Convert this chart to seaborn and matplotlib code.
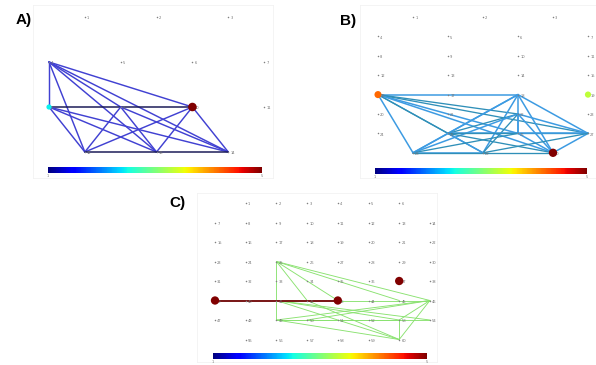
import numpy as np
import pandas as pd
import matplotlib
matplotlib.use("Agg")
import matplotlib.pyplot as plt
import seaborn as sns
from matplotlib.colors import Normalize
from matplotlib.cm import ScalarMappable

sns.set_style("white")
plt.rcParams['font.family'] = ['DejaVu Sans']
JET = plt.get_cmap("jet")

# ---------------- data ----------------
# grid layouts: nodes per row and column offset of each row
rows_A = [3, 4, 4, 3]
offs_A = [0.5, 0, 0, 0.5]
rows_B = [3, 4, 4, 4, 4, 4, 4, 3]
offs_B = [0.5, 0, 0, 0, 0, 0, 0, 0.5]
rows_C = [6, 8, 8, 8, 8, 8, 8, 6]
offs_C = [1, 0, 0, 0, 0, 0, 0, 1]

# coloured (active) nodes and their values on the 0..1 colour scale
active_A = [8, 10]
value_A = [0.36, 1.0]
active_B = [16, 19, 30]
value_B = [0.80, 0.58, 1.0]
active_C = [39, 43, 37]
value_C = [1.0, 1.0, 1.0]

# edges (node pairs) and their weights
edges_A = [(4, 8), (4, 12), (4, 13), (4, 14), (4, 10), (4, 9),
           (8, 10), (8, 12), (8, 13), (8, 14),
           (9, 12), (9, 13), (9, 14),
           (10, 12), (10, 13), (10, 14), (12, 14)]
weight_A = [1, 1, 1, 1, 1, 1,
            2, 1, 1, 1,
            1, 1, 1,
            1, 1, 1, 2]

edges_B = [(16, 18), (16, 22), (16, 25), (16, 26), (16, 27), (16, 28), (16, 29), (16, 30),
           (18, 25), (18, 26), (18, 28), (18, 29), (18, 30), (18, 27),
           (22, 25), (22, 27), (22, 28), (22, 29), (22, 30), (22, 26),
           (25, 26), (25, 27), (25, 29), (25, 30), (25, 28),
           (26, 27), (26, 28), (26, 30), (27, 30), (27, 29), (28, 29), (28, 30)]
weight_B = [1, 2, 2, 1, 2, 1, 2, 1,
            1, 1, 1, 1, 1, 1,
            2, 1, 1, 2, 1, 1,
            1, 2, 1, 2, 1,
            1, 2, 1, 1, 2, 1, 2]

edges_C = [(25, 46), (25, 43), (25, 42), (25, 41), (25, 45), (41, 49), (43, 46),
           (41, 53), (41, 60), (41, 54), (49, 46), (49, 53), (49, 60), (50, 46),
           (53, 60), (46, 60), (46, 53), (42, 60), (49, 54), (39, 43)]
weight_C = [1, 1, 1, 1, 1, 1, 1,
            1, 1, 1, 1, 1, 1, 1,
            1, 1, 1, 1, 1, 3]

# ---------------- helpers ----------------
W, H = 596, 365
fig = plt.figure(figsize=(5.96, 3.65), dpi=100)


def rect(x0, y0, x1, y1):
    return [x0 / W, 1 - y1 / H, (x1 - x0) / W, (y1 - y0) / H]


def grid(rows, offs):
    recs = []
    n = 1
    for r, (cnt, off) in enumerate(zip(rows, offs)):
        for c in range(cnt):
            recs.append((n, c + off, r))
            n += 1
    return pd.DataFrame(recs, columns=["node", "x", "y"]).set_index("node")


def panel(label, frame, x0px, dxpx, y0px, dypx, cbar, lab_pos,
          rows, offs, active, values, sizes, edges, weights, ecols, ewidths):
    ax = fig.add_axes(rect(*frame))
    fx0, fy0, fx1, fy1 = frame
    ax.set_xlim((fx0 - x0px) / dxpx, (fx1 - x0px) / dxpx)
    ax.set_ylim((fy1 - y0px) / dypx, (fy0 - y0px) / dypx)
    ax.set_xticks([]); ax.set_yticks([])
    for s in ax.spines.values():
        s.set_color("#f2f2f2"); s.set_linewidth(0.6)
    g = grid(rows, offs)
    # edges
    for (a, b), w in zip(edges, weights):
        ax.plot([g.loc[a, "x"], g.loc[b, "x"]], [g.loc[a, "y"], g.loc[b, "y"]],
                color=ecols[w], lw=ewidths[w], solid_capstyle="round", zorder=2)
    # all nodes small
    sns.scatterplot(data=g, x="x", y="y", ax=ax, s=1.2, color="#808080",
                    linewidth=0, legend=False, zorder=3)
    for n, row in g.iterrows():
        ax.annotate(str(n), (row.x, row.y), xytext=(1.6, -0.8), textcoords="offset points",
                    fontsize=2.6, color="#707070", ha="left", va="center", zorder=4)
    # active nodes
    act = g.loc[active].copy()
    act["v"] = values
    sns.scatterplot(data=act, x="x", y="y", hue="v", palette=JET, hue_norm=(0, 1),
                    s=sizes, ax=ax, linewidth=0, legend=False, zorder=5)
    ax.set_xlabel(""); ax.set_ylabel("")
    # colorbar
    cax = fig.add_axes(rect(*cbar))
    cb = fig.colorbar(ScalarMappable(norm=Normalize(1, 5), cmap=JET), cax=cax,
                      orientation="horizontal")
    cb.outline.set_visible(False)
    cb.set_ticks([1, 5])
    cb.set_ticklabels(["1", "5"])
    cax.tick_params(length=0, labelsize=2.5, labelcolor="#777777", pad=0.5)
    fig.text(lab_pos[0] / W, 1 - lab_pos[1] / H, label, fontsize=11,
             fontweight="heavy", ha="center", va="center", color="black",
             family=["Liberation Sans", "DejaVu Sans"])
    return ax


panel("A)", (33, 5, 273, 178), 49, 71.7, 17, 45, (48, 167, 262, 173), (24, 20),
      rows_A, offs_A, active_A, value_A, [14, 38], edges_A, weight_A,
      {1: "#4141d2", 2: "#1c1c58"}, {1: 1.05, 2: 1.1})
panel("B)", (360, 5, 596, 178), 378, 70, 17, 19.4, (375, 168, 587, 174), (348, 21),
      rows_B, offs_B, active_B, value_B, [26, 20, 36], edges_B, weight_B,
      {1: "#3d9be2", 2: "#2f8fb8"}, {1: 1.1, 2: 0.95})
panel("C)", (197, 193, 437, 362), 215, 30.7, 203, 19.5, (213, 353, 427, 359), (177, 203),
      rows_C, offs_C, active_C, value_C, [36, 36, 36], edges_C, weight_C,
      {1: "#8ae270", 3: "#781414"}, {1: 0.65, 3: 1.4})

fig.savefig("out.png", dpi=100)
